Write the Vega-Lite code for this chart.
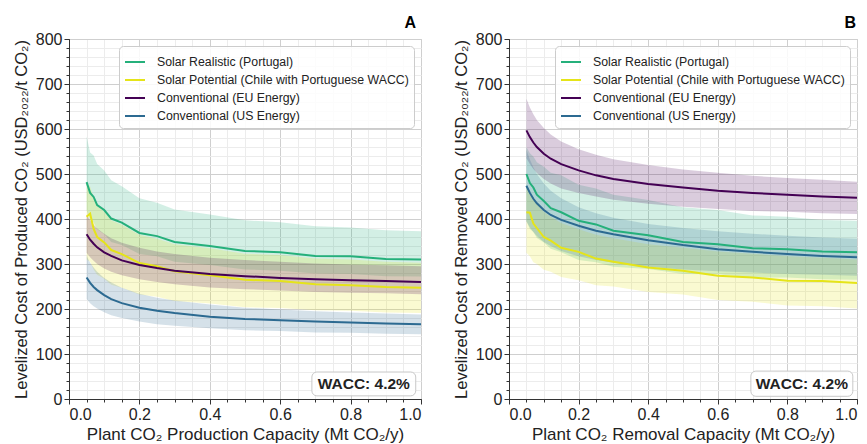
{
"$schema":"https://vega.github.io/schema/vega-lite/v6.json",
"padding":{"left":12,"top":14,"right":8,"bottom":0},
"config":{"font":"Liberation Sans","view":{"stroke":"#333333","strokeWidth":1},
"axis":{"labelColor":"#222222","titleColor":"#222222","tickColor":"#333333","domainColor":"#333333","labelFont":"Liberation Sans","titleFont":"Liberation Sans","titleFontWeight":"normal"},
"legend":{"orient":"top-right","offset":7,"title":null,"fillColor":"rgba(255,255,255,0.85)","strokeColor":"#cccccc","cornerRadius":4,"padding":5,"labelFontSize":12.3,"labelLimit":400,"labelColor":"#222222","symbolType":"stroke","symbolStrokeWidth":2,"symbolSize":400,"labelOffset":11,"rowPadding":0}},
"datasets":{"d":[
{"p":"A","s":"SR","x":0.05,"y":482,"lo":420,"hi":584},{"p":"A","s":"SR","x":0.06,"y":458,"lo":398,"hi":548},{"p":"A","s":"SR","x":0.07,"y":449,"lo":392,"hi":541},{"p":"A","s":"SR","x":0.08,"y":431,"lo":377,"hi":522},{"p":"A","s":"SR","x":0.1,"y":420,"lo":366,"hi":508},{"p":"A","s":"SR","x":0.12,"y":401,"lo":349,"hi":486},{"p":"A","s":"SR","x":0.15,"y":392,"lo":342,"hi":473},{"p":"A","s":"SR","x":0.2,"y":369,"lo":322,"hi":446},{"p":"A","s":"SR","x":0.25,"y":362,"lo":317,"hi":436},{"p":"A","s":"SR","x":0.3,"y":349,"lo":305,"hi":421},{"p":"A","s":"SR","x":0.4,"y":340,"lo":298,"hi":410},{"p":"A","s":"SR","x":0.5,"y":329,"lo":288,"hi":397},{"p":"A","s":"SR","x":0.6,"y":326,"lo":285,"hi":393},{"p":"A","s":"SR","x":0.7,"y":318,"lo":279,"hi":384},{"p":"A","s":"SR","x":0.8,"y":317,"lo":278,"hi":381},{"p":"A","s":"SR","x":0.9,"y":311,"lo":273,"hi":375},{"p":"A","s":"SR","x":1.0,"y":310,"lo":272,"hi":373},
{"p":"A","s":"SP","x":0.05,"y":405,"lo":310,"hi":480},{"p":"A","s":"SP","x":0.06,"y":412,"lo":305,"hi":472},{"p":"A","s":"SP","x":0.07,"y":378,"lo":288,"hi":447},{"p":"A","s":"SP","x":0.08,"y":360,"lo":276,"hi":430},{"p":"A","s":"SP","x":0.1,"y":348,"lo":267,"hi":416},{"p":"A","s":"SP","x":0.12,"y":331,"lo":254,"hi":397},{"p":"A","s":"SP","x":0.15,"y":322,"lo":247,"hi":387},{"p":"A","s":"SP","x":0.2,"y":302,"lo":232,"hi":365},{"p":"A","s":"SP","x":0.25,"y":295,"lo":227,"hi":356},{"p":"A","s":"SP","x":0.3,"y":284,"lo":218,"hi":344},{"p":"A","s":"SP","x":0.4,"y":275,"lo":212,"hi":335},{"p":"A","s":"SP","x":0.5,"y":265,"lo":204,"hi":323},{"p":"A","s":"SP","x":0.6,"y":262,"lo":202,"hi":320},{"p":"A","s":"SP","x":0.7,"y":255,"lo":197,"hi":312},{"p":"A","s":"SP","x":0.8,"y":253,"lo":196,"hi":310},{"p":"A","s":"SP","x":0.9,"y":249,"lo":192,"hi":305},{"p":"A","s":"SP","x":1.0,"y":247,"lo":191,"hi":303},
{"p":"A","s":"EU","x":0.05,"y":366,"lo":325,"hi":410},{"p":"A","s":"EU","x":0.06,"y":354,"lo":315,"hi":397},{"p":"A","s":"EU","x":0.07,"y":345,"lo":307,"hi":387},{"p":"A","s":"EU","x":0.08,"y":337,"lo":300,"hi":379},{"p":"A","s":"EU","x":0.1,"y":326,"lo":290,"hi":367},{"p":"A","s":"EU","x":0.12,"y":318,"lo":283,"hi":357},{"p":"A","s":"EU","x":0.15,"y":308,"lo":275,"hi":347},{"p":"A","s":"EU","x":0.2,"y":298,"lo":266,"hi":336},{"p":"A","s":"EU","x":0.25,"y":291,"lo":260,"hi":328},{"p":"A","s":"EU","x":0.3,"y":285,"lo":255,"hi":322},{"p":"A","s":"EU","x":0.4,"y":278,"lo":248,"hi":314},{"p":"A","s":"EU","x":0.5,"y":273,"lo":244,"hi":309},{"p":"A","s":"EU","x":0.6,"y":269,"lo":241,"hi":305},{"p":"A","s":"EU","x":0.7,"y":266,"lo":238,"hi":301},{"p":"A","s":"EU","x":0.8,"y":264,"lo":236,"hi":299},{"p":"A","s":"EU","x":0.9,"y":262,"lo":235,"hi":297},{"p":"A","s":"EU","x":1.0,"y":260,"lo":233,"hi":295},
{"p":"A","s":"US","x":0.05,"y":270,"lo":222,"hi":318},{"p":"A","s":"US","x":0.06,"y":258,"lo":213,"hi":303},{"p":"A","s":"US","x":0.07,"y":249,"lo":206,"hi":292},{"p":"A","s":"US","x":0.08,"y":242,"lo":201,"hi":283},{"p":"A","s":"US","x":0.1,"y":231,"lo":193,"hi":269},{"p":"A","s":"US","x":0.12,"y":222,"lo":186,"hi":259},{"p":"A","s":"US","x":0.15,"y":213,"lo":180,"hi":247},{"p":"A","s":"US","x":0.2,"y":203,"lo":172,"hi":234},{"p":"A","s":"US","x":0.25,"y":196,"lo":166,"hi":225},{"p":"A","s":"US","x":0.3,"y":191,"lo":163,"hi":219},{"p":"A","s":"US","x":0.4,"y":183,"lo":157,"hi":210},{"p":"A","s":"US","x":0.5,"y":178,"lo":153,"hi":203},{"p":"A","s":"US","x":0.6,"y":175,"lo":151,"hi":199},{"p":"A","s":"US","x":0.7,"y":172,"lo":148,"hi":195},{"p":"A","s":"US","x":0.8,"y":170,"lo":147,"hi":192},{"p":"A","s":"US","x":0.9,"y":168,"lo":145,"hi":190},{"p":"A","s":"US","x":1.0,"y":166,"lo":144,"hi":188},
{"p":"B","s":"SR","x":0.05,"y":500,"lo":395,"hi":560},{"p":"B","s":"SR","x":0.06,"y":480,"lo":378,"hi":546},{"p":"B","s":"SR","x":0.07,"y":470,"lo":371,"hi":539},{"p":"B","s":"SR","x":0.08,"y":454,"lo":358,"hi":526},{"p":"B","s":"SR","x":0.1,"y":440,"lo":348,"hi":516},{"p":"B","s":"SR","x":0.12,"y":424,"lo":334,"hi":503},{"p":"B","s":"SR","x":0.15,"y":415,"lo":326,"hi":497},{"p":"B","s":"SR","x":0.2,"y":396,"lo":309,"hi":476},{"p":"B","s":"SR","x":0.25,"y":388,"lo":304,"hi":468},{"p":"B","s":"SR","x":0.3,"y":374,"lo":294,"hi":454},{"p":"B","s":"SR","x":0.4,"y":364,"lo":289,"hi":442},{"p":"B","s":"SR","x":0.5,"y":349,"lo":278,"hi":426},{"p":"B","s":"SR","x":0.6,"y":344,"lo":277,"hi":420},{"p":"B","s":"SR","x":0.7,"y":335,"lo":270,"hi":408},{"p":"B","s":"SR","x":0.8,"y":333,"lo":270,"hi":405},{"p":"B","s":"SR","x":0.9,"y":328,"lo":266,"hi":398},{"p":"B","s":"SR","x":1.0,"y":326,"lo":265,"hi":396},
{"p":"B","s":"SP","x":0.05,"y":415,"lo":325,"hi":470},{"p":"B","s":"SP","x":0.06,"y":414,"lo":317,"hi":460},{"p":"B","s":"SP","x":0.07,"y":390,"lo":304,"hi":444},{"p":"B","s":"SP","x":0.08,"y":380,"lo":300,"hi":434},{"p":"B","s":"SP","x":0.1,"y":360,"lo":287,"hi":416},{"p":"B","s":"SP","x":0.12,"y":352,"lo":283,"hi":405},{"p":"B","s":"SP","x":0.15,"y":336,"lo":271,"hi":391},{"p":"B","s":"SP","x":0.2,"y":327,"lo":264,"hi":377},{"p":"B","s":"SP","x":0.25,"y":312,"lo":253,"hi":365},{"p":"B","s":"SP","x":0.3,"y":305,"lo":250,"hi":357},{"p":"B","s":"SP","x":0.4,"y":292,"lo":238,"hi":344},{"p":"B","s":"SP","x":0.5,"y":285,"lo":232,"hi":336},{"p":"B","s":"SP","x":0.6,"y":274,"lo":220,"hi":328},{"p":"B","s":"SP","x":0.7,"y":270,"lo":216,"hi":323},{"p":"B","s":"SP","x":0.8,"y":263,"lo":208,"hi":317},{"p":"B","s":"SP","x":0.9,"y":262,"lo":206,"hi":314},{"p":"B","s":"SP","x":1.0,"y":258,"lo":201,"hi":310},
{"p":"B","s":"EU","x":0.05,"y":597,"lo":535,"hi":667},{"p":"B","s":"EU","x":0.06,"y":582,"lo":522,"hi":648},{"p":"B","s":"EU","x":0.07,"y":570,"lo":511,"hi":633},{"p":"B","s":"EU","x":0.08,"y":560,"lo":502,"hi":620},{"p":"B","s":"EU","x":0.1,"y":545,"lo":489,"hi":602},{"p":"B","s":"EU","x":0.12,"y":534,"lo":479,"hi":588},{"p":"B","s":"EU","x":0.15,"y":522,"lo":468,"hi":572},{"p":"B","s":"EU","x":0.2,"y":508,"lo":458,"hi":555},{"p":"B","s":"EU","x":0.25,"y":497,"lo":450,"hi":543},{"p":"B","s":"EU","x":0.3,"y":489,"lo":443,"hi":533},{"p":"B","s":"EU","x":0.4,"y":478,"lo":434,"hi":520},{"p":"B","s":"EU","x":0.5,"y":470,"lo":427,"hi":510},{"p":"B","s":"EU","x":0.6,"y":463,"lo":422,"hi":503},{"p":"B","s":"EU","x":0.7,"y":458,"lo":418,"hi":496},{"p":"B","s":"EU","x":0.8,"y":454,"lo":416,"hi":491},{"p":"B","s":"EU","x":0.9,"y":450,"lo":413,"hi":487},{"p":"B","s":"EU","x":1.0,"y":447,"lo":411,"hi":483},
{"p":"B","s":"US","x":0.05,"y":474,"lo":395,"hi":554},{"p":"B","s":"US","x":0.06,"y":458,"lo":381,"hi":532},{"p":"B","s":"US","x":0.07,"y":445,"lo":371,"hi":515},{"p":"B","s":"US","x":0.08,"y":435,"lo":362,"hi":500},{"p":"B","s":"US","x":0.1,"y":420,"lo":349,"hi":479},{"p":"B","s":"US","x":0.12,"y":409,"lo":340,"hi":463},{"p":"B","s":"US","x":0.15,"y":398,"lo":329,"hi":446},{"p":"B","s":"US","x":0.2,"y":385,"lo":317,"hi":426},{"p":"B","s":"US","x":0.25,"y":374,"lo":309,"hi":413},{"p":"B","s":"US","x":0.3,"y":366,"lo":303,"hi":403},{"p":"B","s":"US","x":0.4,"y":353,"lo":294,"hi":389},{"p":"B","s":"US","x":0.5,"y":342,"lo":288,"hi":380},{"p":"B","s":"US","x":0.6,"y":333,"lo":284,"hi":373},{"p":"B","s":"US","x":0.7,"y":327,"lo":281,"hi":367},{"p":"B","s":"US","x":0.8,"y":322,"lo":278,"hi":363},{"p":"B","s":"US","x":0.9,"y":318,"lo":276,"hi":359},{"p":"B","s":"US","x":1.0,"y":315,"lo":274,"hi":356}
]},
"spacing":26,
"resolve":{"scale":{"stroke":"independent","fill":"independent"},"legend":{"stroke":"independent"}},
"hconcat":[
{"width":352,"height":360,
 "title":{"text":"A","anchor":"end","fontSize":16,"fontWeight":"bold","offset":0,"dx":-9,"color":"#000000"},
 "resolve":{"axis":{"x":"independent","y":"independent"}},
 "layer":[
  {"data":{"name":"d"},"transform":[{"filter":"datum.p=='A'"}],
   "mark":{"type":"area","fillOpacity":0.2,"strokeWidth":0},
   "encoding":{
    "x":{"field":"x","type":"quantitative","scale":{"domain":[0,1],"nice":false},"axis":{"orient":"bottom","values":[0,0.05,0.1,0.15,0.2,0.25,0.3,0.35,0.4,0.45,0.5,0.55,0.6,0.65,0.7,0.75,0.8,0.85,0.9,0.95,1],"grid":true,"gridColor":"#ececec","labels":false,"tickSize":3,"domain":false,"title":null}},
    "y":{"field":"lo","type":"quantitative","scale":{"domain":[0,800],"nice":false},"axis":{"orient":"left","values":[0,20,40,60,80,100,120,140,160,180,200,220,240,260,280,300,320,340,360,380,400,420,440,460,480,500,520,540,560,580,600,620,640,660,680,700,720,740,760,780,800],"grid":true,"gridColor":"#ececec","labels":false,"tickSize":3,"domain":false,"title":null}},
    "y2":{"field":"hi"},
    "fill":{"field":"s","type":"nominal","scale":{"domain":["US","EU","SP","SR"],"range":["#2c6a91","#440154","#e5e419","#25b07b"]},"legend":null}}},
  {"data":{"name":"d"},"transform":[{"filter":"datum.p=='A'"}],
   "mark":{"type":"line","strokeWidth":2},
   "encoding":{
    "x":{"field":"x","type":"quantitative","axis":{"orient":"bottom","values":[0,0.2,0.4,0.6,0.8,1],"format":".1f","grid":true,"gridColor":"#cfcfcf","tickSize":5,"labelFontSize":16,"labelPadding":2,"title":"Plant CO₂ Production Capacity (Mt CO₂/y)","titleFontSize":17,"titlePadding":4}},
    "y":{"field":"y","type":"quantitative","axis":{"orient":"left","values":[0,100,200,300,400,500,600,700,800],"grid":true,"gridColor":"#cfcfcf","tickSize":5,"labelFontSize":16,"labelPadding":2,"title":"Levelized Cost of Produced CO₂ (USD₂₀₂₂/t CO₂)","titleFontSize":16.5,"titlePadding":6}},
    "stroke":{"field":"s","type":"nominal","scale":{"domain":["SR","SP","EU","US"],"range":["#25b07b","#e5e419","#440154","#2c6a91"]},
     "legend":{"labelExpr":"datum.value=='SR'?'Solar Realistic (Portugal)':datum.value=='SP'?'Solar Potential (Chile with Portuguese WACC)':datum.value=='EU'?'Conventional (EU Energy)':'Conventional (US Energy)'"}}}},
  {"data":{"values":[{"t":"WACC: 4.2%"}]},
   "mark":{"type":"rect","fill":"#ffffff","fillOpacity":0.85,"stroke":"#c8c8c8","strokeWidth":1,"cornerRadius":5},
   "encoding":{"x":{"datum":0.69,"type":"quantitative","axis":null},"x2":{"datum":0.985},"y":{"datum":7,"type":"quantitative","axis":null},"y2":{"datum":60}}},
  {"data":{"values":[{"t":"WACC: 4.2%"}]},
   "mark":{"type":"text","fontSize":15.5,"fontWeight":"bold","color":"#222222"},
   "encoding":{"x":{"datum":0.8375,"type":"quantitative","axis":null},"y":{"datum":33.5,"type":"quantitative","axis":null},"text":{"field":"t"}}}
 ]},
{"width":348,"height":360,
 "title":{"text":"B","anchor":"end","fontSize":16,"fontWeight":"bold","offset":0,"dx":-5,"color":"#000000"},
 "resolve":{"axis":{"x":"independent","y":"independent"}},
 "layer":[
  {"data":{"name":"d"},"transform":[{"filter":"datum.p=='B'"}],
   "mark":{"type":"area","fillOpacity":0.2,"strokeWidth":0},
   "encoding":{
    "x":{"field":"x","type":"quantitative","scale":{"domain":[0,1],"nice":false},"axis":{"orient":"bottom","values":[0,0.05,0.1,0.15,0.2,0.25,0.3,0.35,0.4,0.45,0.5,0.55,0.6,0.65,0.7,0.75,0.8,0.85,0.9,0.95,1],"grid":true,"gridColor":"#ececec","labels":false,"tickSize":3,"domain":false,"title":null}},
    "y":{"field":"lo","type":"quantitative","scale":{"domain":[0,800],"nice":false},"axis":{"orient":"left","values":[0,20,40,60,80,100,120,140,160,180,200,220,240,260,280,300,320,340,360,380,400,420,440,460,480,500,520,540,560,580,600,620,640,660,680,700,720,740,760,780,800],"grid":true,"gridColor":"#ececec","labels":false,"tickSize":3,"domain":false,"title":null}},
    "y2":{"field":"hi"},
    "fill":{"field":"s","type":"nominal","scale":{"domain":["US","EU","SP","SR"],"range":["#2c6a91","#440154","#e5e419","#25b07b"]},"legend":null}}},
  {"data":{"name":"d"},"transform":[{"filter":"datum.p=='B'"}],
   "mark":{"type":"line","strokeWidth":2},
   "encoding":{
    "x":{"field":"x","type":"quantitative","axis":{"orient":"bottom","values":[0,0.2,0.4,0.6,0.8,1],"format":".1f","grid":true,"gridColor":"#cfcfcf","tickSize":5,"labelFontSize":16,"labelPadding":2,"title":"Plant CO₂ Removal Capacity (Mt CO₂/y)","titleFontSize":17,"titlePadding":4}},
    "y":{"field":"y","type":"quantitative","axis":{"orient":"left","values":[0,100,200,300,400,500,600,700,800],"grid":true,"gridColor":"#cfcfcf","tickSize":5,"labelFontSize":16,"labelPadding":2,"title":"Levelized Cost of Removed CO₂ (USD₂₀₂₂/t CO₂)","titleFontSize":16.5,"titlePadding":6}},
    "stroke":{"field":"s","type":"nominal","scale":{"domain":["SR","SP","EU","US"],"range":["#25b07b","#e5e419","#440154","#2c6a91"]},
     "legend":{"labelExpr":"datum.value=='SR'?'Solar Realistic (Portugal)':datum.value=='SP'?'Solar Potential (Chile with Portuguese WACC)':datum.value=='EU'?'Conventional (EU Energy)':'Conventional (US Energy)'"}}}},
  {"data":{"values":[{"t":"WACC: 4.2%"}]},
   "mark":{"type":"rect","fill":"#ffffff","fillOpacity":0.85,"stroke":"#c8c8c8","strokeWidth":1,"cornerRadius":5},
   "encoding":{"x":{"datum":0.695,"type":"quantitative","axis":null},"x2":{"datum":0.988},"y":{"datum":6,"type":"quantitative","axis":null},"y2":{"datum":62}}},
  {"data":{"values":[{"t":"WACC: 4.2%"}]},
   "mark":{"type":"text","fontSize":15.5,"fontWeight":"bold","color":"#222222"},
   "encoding":{"x":{"datum":0.8415,"type":"quantitative","axis":null},"y":{"datum":34,"type":"quantitative","axis":null},"text":{"field":"t"}}}
 ]}
]
}
